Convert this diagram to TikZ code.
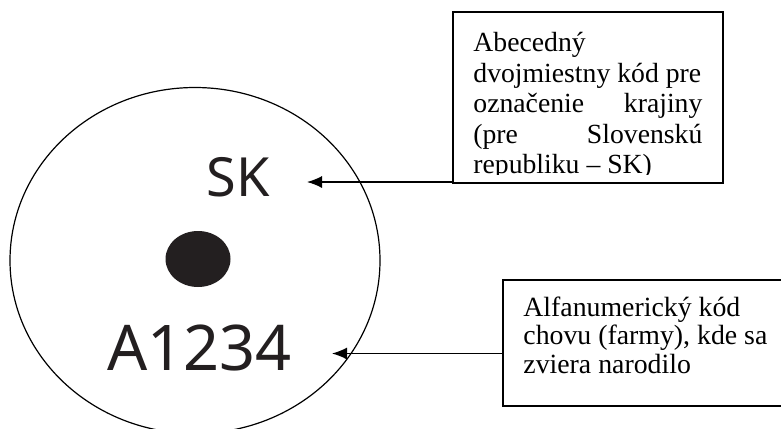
\documentclass[tikz,border=0pt]{standalone}
\usepackage{fontspec}
\setmainfont{Liberation Serif}
\newfontfamily\platefont{Noto Sans}
\usetikzlibrary{arrows.meta}
\definecolor{ink}{HTML}{231F20}

\begin{document}
\begin{tikzpicture}[x=0.5pt,y=-0.5pt,>={Latex[length=7.5pt,width=6pt]}]
      \useasboundingbox (0,0) rectangle (781,428);

      \draw[line width=0.6pt] (195,260.5) ellipse [x radius=185,y radius=173];
      \fill[ink] (198,259) ellipse [x radius=32.5,y radius=28];

      \begin{scope}[every node/.style={text=ink, inner sep=0pt}]
        \node (3) [anchor=base, font=\platefont\fontsize{27}{27}\selectfont] at (238.5,196) {SK};
        \node (4) [anchor=base, font=\platefont\fontsize{31.5}{31.5}\selectfont] at (199.5,370) {A1234};
      \end{scope}

      \begin{scope}[every node/.style={draw, line width=0.75pt, inner sep=0pt}]
        \node (1) [minimum width=135pt, minimum height=85.5pt] at (588,97.5) {};
        \node (2) [minimum width=145pt, minimum height=63pt, anchor=north west] at (502,279) {};
      \end{scope}

      \begin{scope}[every node/.style={anchor=north west, inner sep=0pt, align=justify}]
        \begin{scope}
          \clip (453,12) rectangle (723,174.5);
          \node (5) [text width=114.5pt, font=\fontsize{13.85}{15.25}\selectfont] at (473,32)
            {Abecedný\\ dvojmiestny kód pre\\ označenie\hfill krajiny\\ (pre\hfill Slovenskú\\ republiku – SK)};
        \end{scope}
        \node (6) [text width=125pt, font=\fontsize{13.9}{14.25}\selectfont] at (523,296.5)
          {Alfanumerický kód\\ chovu (farmy), kde sa\\ zviera narodilo};
      \end{scope}

      \coordinate (a) at (307,182);
      \coordinate (b) at (332,353.5);
      \draw[->, line width=0.65pt] (1.south west |- a) -- (a);
      \draw[->, line width=0.65pt] (2.west |- b) -- (b);

    \end{tikzpicture}
\end{document}
